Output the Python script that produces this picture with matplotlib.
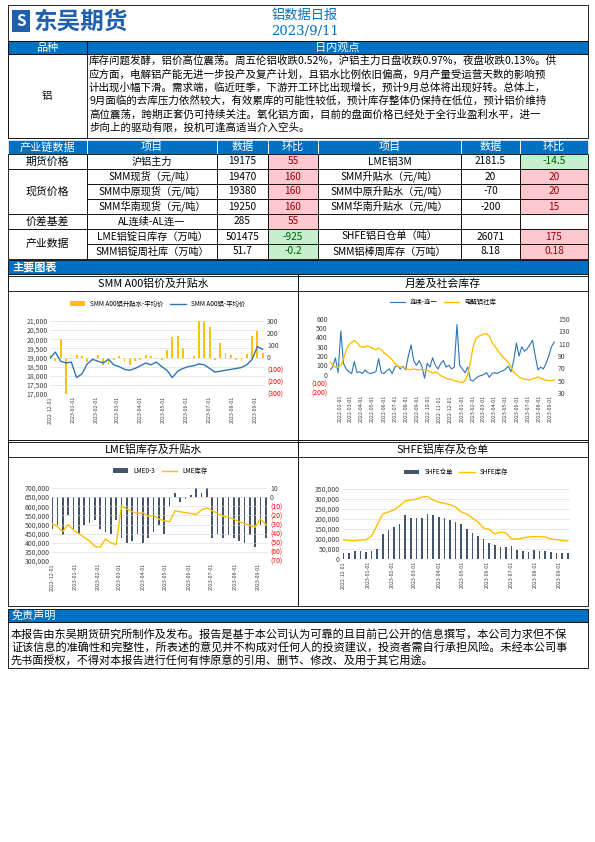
import matplotlib
matplotlib.use("Agg")
import matplotlib.pyplot as plt
import matplotlib.dates as mdates
from matplotlib.patches import Rectangle
import pandas as pd

plt.rcParams['font.family'] = ['Noto Sans CJK SC', 'DejaVu Sans']

BLUE = '#0070C0'
RED_BG, RED_TX = '#FFC7CE', '#9C0006'
GRN_BG, GRN_TX = '#C6EFCE', '#006100'
LINE_BLUE = '#2E75B6'
YELLOW = '#FFC000'
BAR_DARK = '#44546A'

# ---- 文本 ----
view_lines = [
    "库存问题发酵，铝价高位震荡。周五伦铝收跌0.52%，沪铝主力日盘收跌0.97%，夜盘收跌0.13%。供",
    "应方面，电解铝产能无进一步投产及复产计划，且铝水比例依旧偏高，9月产量受运营天数的影响预",
    "计出现小幅下滑。需求端，临近旺季，下游开工环比出现增长，预计9月总体将出现好转。总体上，",
    "9月面临的去库压力依然较大，有效累库的可能性较低，预计库存整体仍保持在低位，预计铝价维持",
    "高位震荡，跨期正套仍可持续关注。氧化铝方面，目前的盘面价格已经处于全行业盈利水平，进一",
    "步向上的驱动有限，投机可逢高适当介入空头。",
]
disclaimer_lines = [
    "本报告由东吴期货研究所制作及发布。报告是基于本公司认为可靠的且目前已公开的信息撰写，本公司力求但不保",
    "证该信息的准确性和完整性，所表述的意见并不构成对任何人的投资建议，投资者需自行承担风险。未经本公司事",
    "先书面授权，不得对本报告进行任何有悖原意的引用、删节、修改、及用于其它用途。",
]

# ---- 表格 ----
left_items = ["沪铝主力", "SMM现货（元/吨）", "SMM中原现货（元/吨）", "SMM华南现货（元/吨）",
              "AL连续-AL连一", "LME铝锭日库存（万吨）", "SMM铝锭周社库（万吨）"]
left_vals = ["19175", "19470", "19380", "19250", "285", "501475", "51.7"]
left_chg = ["55", "160", "160", "160", "55", "-925", "-0.2"]
right_items = ["LME铝3M", "SMM升贴水（元/吨）", "SMM中原升贴水（元/吨）", "SMM华南升贴水（元/吨）",
               "", "SHFE铝日仓单（吨）", "SMM铝棒周库存（万吨）"]
right_vals = ["2181.5", "20", "-70", "-200", "", "26071", "8.18"]
right_chg = ["-14.5", "20", "20", "15", "", "175", "0.18"]

# ---- 图1: SMM A00铝价及升贴水 ----
smm_price = [18950, 19300, 18800, 18700, 18750, 17900, 18100, 18650, 18900, 18800, 18700,
             18900, 18600, 18500, 18350, 18300, 18400, 18550, 18700, 18600, 18750, 18500,
             18300, 17900, 18250, 18400, 18500, 18550, 18650, 18600, 18400, 18200, 18250,
             18300, 18350, 18400, 18450, 18600, 18900, 19600, 19450]
smm_prem = [20, -30, 150, -300, -10, 20, 10, -40, -30, 20, -60, -50, -20, 10, -40, -60, -30,
            -20, 20, 10, -10, -20, 60, 170, 180, 80, -10, 10, 300, 300, 250, -20, 120, 40, 20,
            -20, -30, 30, 180, 220, 40]

# ---- 图2: 月差及社会库存 ----
spread = [50, 80, 180, 20, 470, 120, 60, 30, 10, 140, 20, 30, 10, 50, 20, 10, 20, 30, 170, 20,
          10, 40, 60, 10, 80, 100, 60, 90, 50, 200, 320, 150, 100, 150, 90, -40, 120, 80, 180,
          100, 60, 120, 150, 80, 100, 60, 80, 540, 100, 60, 20, 80, -60, -70, -40, -20, -10, 0,
          20, -30, 10, 20, 10, 30, 40, 60, 90, 30, 150, 340, 200, 300, 250, 280, 320, 370, 200,
          50, 80, 60, 120, 200, 300, 350]
social_inv = [80, 76, 72, 72, 75, 85, 100, 108, 112, 115, 112, 106, 104, 105, 106, 104, 102, 100,
              103, 100, 95, 92, 88, 84, 78, 74, 72, 72, 70, 68, 68, 69, 68, 68, 68, 68, 67, 65,
              62, 64, 62, 58, 56, 54, 52, 52, 50, 49, 48, 47, 50, 60, 80, 105, 118, 122, 124, 126,
              126, 122, 112, 106, 100, 94, 88, 84, 80, 72, 64, 60, 56, 54, 52, 52, 51, 53, 54, 56,
              54, 52, 51, 50, 50, 51]

# ---- 图3: LME铝库存及升贴水 ----
lme_stock = [505000, 490000, 460000, 500000, 470000, 450000, 430000, 410000, 380000, 375000,
             420000, 400000, 390000, 600000, 585000, 570000, 560000, 565000, 545000, 550000,
             530000, 520000, 515000, 575000, 570000, 565000, 560000, 555000, 580000, 590000,
             575000, 560000, 545000, 540000, 530000, 515000, 505000, 495000, 485000, 530000, 500000]
lme_spread = [-35, -30, -42, -20, -35, -40, -30, -28, -25, -35, -38, -40, -25, -45, -50, -48, -40,
              -50, -45, -38, -30, -40, -10, 5, -5, -2, 2, 10, 5, 10, -45, -40, -45, -42, -45, -48,
              -50, -42, -55, -30, -45]

# ---- 图4: SHFE铝库存及仓单 ----
shfe_stock = [95000, 92000, 91000, 95000, 96000, 115000, 170000, 225000, 235000, 245000, 265000,
              290000, 295000, 300000, 310000, 312000, 295000, 285000, 278000, 272000, 260000,
              235000, 225000, 205000, 185000, 155000, 148000, 125000, 135000, 130000, 100000,
              100000, 105000, 110000, 112000, 112000, 110000, 100000, 97000, 92000, 90000]
shfe_wr = [30000, 32000, 40000, 38000, 35000, 42000, 50000, 125000, 145000, 160000, 175000,
           220000, 205000, 203000, 205000, 225000, 222000, 210000, 205000, 195000, 185000, 175000,
           150000, 130000, 115000, 100000, 78000, 70000, 62000, 58000, 65000, 45000, 38000, 36000,
           45000, 42000, 38000, 36000, 32000, 30000, 28000]

d1 = pd.date_range('2022-12-01', '2023-09-11', periods=len(smm_price))
d2 = pd.date_range('2022-01-04', '2023-09-11', periods=len(spread))

fig = plt.figure(figsize=(5.95, 8.42), dpi=100)
bg = fig.add_axes([0, 0, 1, 1])
bg.set_xlim(0, 595)
bg.set_ylim(842, 0)
bg.axis('off')


def box(x0, y0, x1, y1, fc='white', ec='black', lw=0.6):
    bg.add_patch(Rectangle((x0, y0), x1 - x0, y1 - y0, fc=fc, ec=ec, lw=lw))


def txt(x, y, s, size=7, color='black', ha='center', **kw):
    bg.text(x, y, s, fontsize=size, color=color, ha=ha, va='center', **kw)


L, R = 8, 588
# header
box(L, 5, R, 41)
bg.add_patch(Rectangle((12, 10), 18, 22, fc='#1F5FAD', ec='none'))
txt(21, 21, "S", size=11, color='white', weight='bold')
txt(34, 22, "东吴期货", size=17, color='#1F5FAD', ha='left', weight='bold')
txt(305, 15, "铝数据日报", size=9.5, color=BLUE)
txt(305, 32, "2023/9/11", size=9.5, color=BLUE, family='DejaVu Serif')

# 观点
box(L, 41, R, 54, fc=BLUE)
box(L, 41, 87, 54, fc=BLUE)
txt(47, 47.5, "品种", color='white', size=8)
txt(337, 47.5, "日内观点", color='white', size=8)
box(L, 54, R, 138)
box(L, 54, 87, 138)
txt(47, 96, "铝", size=7.5)
for i, s in enumerate(view_lines):
    txt(89, 61 + i * 13.3, s, size=7.55, ha='left')

# 表格
cols = [L, 87, 217, 268, 318, 461, 520, R]
box(L, 140, R, 154, fc=BLUE)
heads = ["产业链数据", "项目", "数据", "环比", "项目", "数据", "环比"]
for j, h in enumerate(heads):
    box(cols[j], 140, cols[j + 1], 154, fc=BLUE, ec='white')
    txt((cols[j] + cols[j + 1]) / 2, 147, h, color='white', size=8)
row_y = [154, 169, 184, 199, 214, 229, 244, 259]
groups = [("期货价格", 0, 1), ("现货价格", 1, 4), ("价差基差", 4, 5), ("产业数据", 5, 7)]
for name, a, b in groups:
    box(cols[0], row_y[a], cols[1], row_y[b])
    txt((cols[0] + cols[1]) / 2, (row_y[a] + row_y[b]) / 2, name, size=7.8)


def chg_style(s):
    if s == "":
        return 'white', 'black'
    return (GRN_BG, GRN_TX) if s.startswith('-') else (RED_BG, RED_TX)


for i in range(7):
    y0, y1 = row_y[i], row_y[i + 1]
    ym = (y0 + y1) / 2
    cells = [left_items[i], left_vals[i], left_chg[i], right_items[i], right_vals[i], right_chg[i]]
    for j, s in enumerate(cells):
        fc, tc = 'white', 'black'
        if j in (2, 5):
            fc, tc = chg_style(s)
        box(cols[j + 1], y0, cols[j + 2], y1, fc=fc)
        txt((cols[j + 1] + cols[j + 2]) / 2, ym, s, size=7.3, color=tc)

box(L, 260, R, 274, fc=BLUE)
txt(12, 267, "主要图表", color='white', size=8, ha='left', weight='bold')

# chart frames
for (x0, x1) in [(L, 298), (298, R)]:
    for (y0, y1) in [(274, 440), (440, 606)]:
        box(x0, y0, x1, y1)
        box(x0, y0 + 2, x1, y0 + 17)
titles = [("SMM A00铝价及升贴水", 153, 284), ("月差及社会库存", 443, 284),
          ("LME铝库存及升贴水", 153, 450), ("SHFE铝库存及仓单", 443, 450)]
for s, x, y in titles:
    txt(x, y, s, size=7.8)

# 免责声明
box(L, 609, R, 622, fc=BLUE)
txt(12, 615.5, "免责声明", color='white', size=8, ha='left')
box(L, 622, R, 668)
for i, s in enumerate(disclaimer_lines):
    txt(11, 634 + i * 13.5, s, size=8.0, ha='left')


def pax(x0, y0, x1, y1):
    return fig.add_axes([x0 / 595, 1 - y1 / 842, (x1 - x0) / 595, (y1 - y0) / 842])


def style(ax, fmt_dates=True):
    ax.tick_params(labelsize=5, length=0, pad=1.5, colors='#404040')
    for sp in ax.spines.values():
        sp.set_visible(False)
    ax.grid(axis='y', color='#D9D9D9', lw=0.4)
    ax.set_axisbelow(True)
    if fmt_dates:
        ax.xaxis.set_major_locator(mdates.MonthLocator())
        ax.xaxis.set_major_formatter(mdates.DateFormatter('%Y-%m-%d'))
        for t in ax.get_xticklabels():
            t.set_rotation(90)
            t.set_fontsize(3.8)


def red_neg(v, p):
    return f"({abs(int(v)):,})" if v < 0 else f"{int(v):,}"


def legend(ax, h, l):
    ax.legend(h, l, loc='lower center', bbox_to_anchor=(0.5, 1.1), ncol=2,
              frameon=False, fontsize=4.6, handlelength=2.4, columnspacing=1)


# 图1
ax1 = pax(50, 321, 265, 394)
ax1b = ax1.twinx()
ax1b.bar(d1, smm_prem, width=2.5, color=YELLOW, label='SMM A00铝升贴水-平均价', zorder=1)
ax1b.set_ylim(-300, 300)
ax1b.set_yticks(range(-300, 301, 100))
ax1b.yaxis.set_major_formatter(plt.FuncFormatter(red_neg))
ax1.set_zorder(ax1b.get_zorder() + 1)
ax1.patch.set_visible(False)
ax1.plot(d1, smm_price, color=LINE_BLUE, lw=1.0, label='SMM A00铝-平均价')
ax1.set_ylim(17000, 21000)
ax1.set_yticks(range(17000, 21001, 500))
ax1.yaxis.set_major_formatter(plt.FuncFormatter(lambda v, p: f"{int(v):,}"))
ax1.set_xlim(d1[0], d1[-1] + pd.Timedelta(days=3))
style(ax1)
style(ax1b, False)
ax1b.grid(False)
for t in ax1b.get_yticklabels():
    if t.get_text().startswith('('):
        t.set_color('red')
h1, l1 = ax1b.get_legend_handles_labels()
h2, l2 = ax1.get_legend_handles_labels()
legend(ax1, h1 + h2, l1 + l2)

# 图2
ax2 = pax(330, 319, 556, 393)
ax2b = ax2.twinx()
ax2.plot(d2, spread, color=LINE_BLUE, lw=0.8, label='连续-连一')
ax2b.plot(d2, social_inv, color=YELLOW, lw=1.0, label='电解铝社库')
ax2.set_ylim(-200, 600)
ax2.set_yticks(range(-200, 601, 100))
ax2.yaxis.set_major_formatter(plt.FuncFormatter(red_neg))
ax2b.set_ylim(30, 150)
ax2b.set_yticks(range(30, 151, 20))
ax2.set_xlim(d2[0], d2[-1] + pd.Timedelta(days=5))
style(ax2)
style(ax2b, False)
ax2b.grid(False)
ax2.grid(False)
for t in ax2.get_yticklabels():
    if t.get_text().startswith('('):
        t.set_color('red')
h1, l1 = ax2.get_legend_handles_labels()
h2, l2 = ax2b.get_legend_handles_labels()
legend(ax2, h1 + h2, l1 + l2)

# 图3
ax3 = pax(52, 488, 268, 561)
ax3b = ax3.twinx()
ax3b.bar(d1, lme_spread, width=2.2, color=BAR_DARK, label='LME0-3', zorder=1)
ax3b.set_ylim(-70, 10)
ax3b.set_yticks(range(-70, 11, 10))
ax3b.yaxis.set_major_formatter(plt.FuncFormatter(red_neg))
ax3.set_zorder(ax3b.get_zorder() + 1)
ax3.patch.set_visible(False)
ax3.plot(d1, lme_stock, color=YELLOW, lw=1.0, label='LME库存')
ax3.set_ylim(300000, 700000)
ax3.set_yticks(range(300000, 700001, 50000))
ax3.yaxis.set_major_formatter(plt.FuncFormatter(lambda v, p: f"{int(v):,}"))
ax3.set_xlim(d1[0], d1[-1] + pd.Timedelta(days=3))
style(ax3)
style(ax3b, False)
ax3b.grid(False)
for t in ax3b.get_yticklabels():
    if t.get_text().startswith('('):
        t.set_color('red')
h1, l1 = ax3b.get_legend_handles_labels()
h2, l2 = ax3.get_legend_handles_labels()
legend(ax3, h1 + h2, l1 + l2)

# 图4
ax4 = pax(342, 489, 570, 559)
ax4.bar(d1, shfe_wr, width=2.2, color=BAR_DARK, label='SHFE仓单')
ax4.plot(d1, shfe_stock, color=YELLOW, lw=1.0, label='SHFE库存')
ax4.set_ylim(0, 350000)
ax4.set_yticks(range(0, 350001, 50000))
ax4.yaxis.set_major_formatter(plt.FuncFormatter(lambda v, p: f"{int(v):,}"))
ax4.set_xlim(d1[0] - pd.Timedelta(days=2), d1[-1] + pd.Timedelta(days=3))
style(ax4)
h, l = ax4.get_legend_handles_labels()
legend(ax4, h[::-1], l[::-1])

fig.savefig('out.png', dpi=100)
